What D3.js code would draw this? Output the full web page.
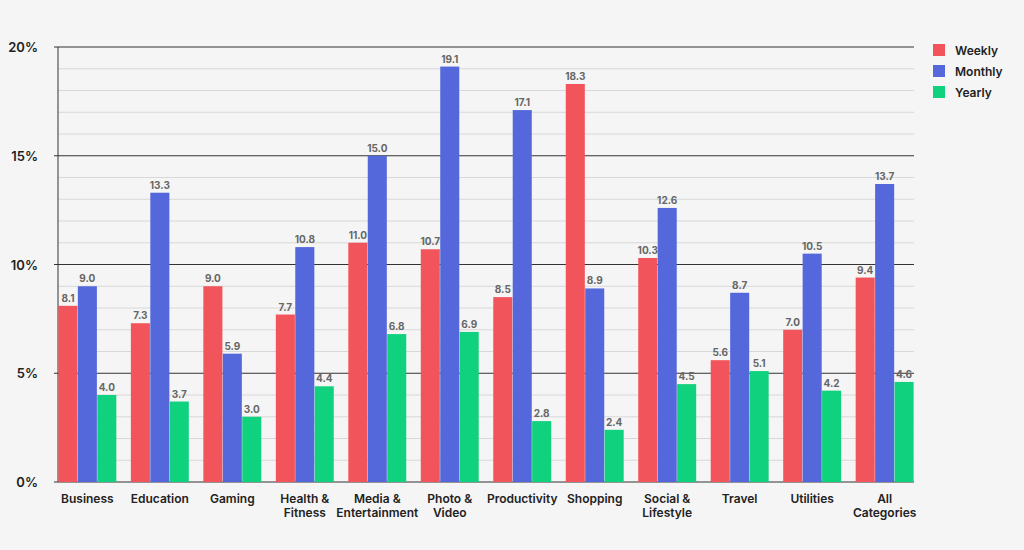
<!DOCTYPE html>
<html>
<head>
<meta charset="utf-8">
<script src="https://cdn.jsdelivr.net/npm/d3@7"></script>
<style>
  body { margin: 0; background: #f5f5f5; }
  text { font-family: Inter, "Noto Sans", sans-serif; }
</style>
</head>
<body>
<div id="chart"></div>
<script>
var categories = ["Business", "Education", "Gaming", "Health & Fitness", "Media & Entertainment",
    "Photo & Video", "Productivity", "Shopping", "Social & Lifestyle", "Travel", "Utilities", "All Categories"];
var labelLines = [["Business"], ["Education"], ["Gaming"], ["Health &", "Fitness"], ["Media &", "Entertainment"],
    ["Photo &", "Video"], ["Productivity"], ["Shopping"], ["Social &", "Lifestyle"], ["Travel"], ["Utilities"], ["All", "Categories"]];
var series = ["Weekly", "Monthly", "Yearly"];
var weekly = [8.1, 7.3, 9.0, 7.7, 11.0, 10.7, 8.5, 18.3, 10.3, 5.6, 7.0, 9.4];
var monthly = [9.0, 13.3, 5.9, 10.8, 15.0, 19.1, 17.1, 8.9, 12.6, 8.7, 10.5, 13.7];
var yearly = [4.0, 3.7, 3.0, 4.4, 6.8, 6.9, 2.8, 2.4, 4.5, 5.1, 4.2, 4.6];
var colors = ["#f2545b", "#5468db", "#10d17e"];
var yTicks = [0, 5, 10, 15, 20];

var values = [weekly, monthly, yearly];
var W = 1024, H = 550;
var padL = 58, padR = 914, padT = 47, padB = 482;

var svg = d3.select("#chart").append("svg")
        .attr("width", W).attr("height", H);

var x = d3.scaleBand().domain(categories).range([padL, padR]).paddingInner(0.19).paddingOuter(0);
var xs = d3.scaleBand().domain(series).range([0, x.bandwidth()]).padding(0.02);
var y = d3.scaleLinear().domain([0, 20]).range([padB, padT]);

//minor gridlines
svg.append("g").selectAll("line")
        .data(d3.range(1, 20).filter(function (d) { return d % 5 !== 0; }))
        .join("line")
        .attr("x1", padL).attr("x2", padR)
        .attr("y1", function (d) { return y(d); }).attr("y2", function (d) { return y(d); })
        .attr("stroke", "#d8d8d8").attr("stroke-width", 1);

//major gridlines
svg.append("g").selectAll("line")
        .data(yTicks)
        .join("line")
        .attr("x1", padL - 4).attr("x2", padR)
        .attr("y1", function (d) { return y(d); }).attr("y2", function (d) { return y(d); })
        .attr("stroke", "#333").attr("stroke-width", 1);

svg.append("g").selectAll("text")
        .data(yTicks)
        .join("text")
        .attr("x", 38).attr("y", function (d) { return y(d) + 5; })
        .attr("text-anchor", "end")
        .attr("font-size", 13).attr("font-weight", 600).attr("fill", "#222")
        .text(function (d) { return d + "%"; });

svg.append("line")
        .attr("x1", padL).attr("x2", padL).attr("y1", padT).attr("y2", padB)
        .attr("stroke", "#333");

//bars
series.forEach(function (s, si) {
    var g = svg.append("g");
    g.selectAll("rect")
            .data(values[si])
            .join("rect")
            .attr("x", function (d, i) { return x(categories[i]) + xs(s); })
            .attr("width", xs.bandwidth())
            .attr("y", function (d) { return y(d); })
            .attr("height", function (d) { return padB - y(d); })
            .attr("fill", colors[si]);
    g.selectAll("text")
            .data(values[si])
            .join("text")
            .attr("x", function (d, i) { return x(categories[i]) + xs(s) + xs.bandwidth() / 2; })
            .attr("y", function (d) { return y(d) - 4; })
            .attr("text-anchor", "middle")
            .attr("font-size", 10).attr("font-weight", 700).attr("fill", "#666")
            .text(function (d) { return d.toFixed(1); });
});

//category labels
svg.append("g").selectAll("text")
        .data(categories)
        .join("text")
        .attr("x", function (d) { return x(d) + x.bandwidth() / 2; })
        .attr("y", 503)
        .attr("text-anchor", "middle")
        .attr("font-size", 12).attr("font-weight", 600).attr("fill", "#222")
        .each(function (d, i) {
            var t = d3.select(this);
            labelLines[i].forEach(function (line, li) {
                t.append("tspan").attr("x", x(d) + x.bandwidth() / 2).attr("dy", li ? 14 : 0).text(line);
            });
        });

//legend
var legend = svg.append("g").attr("transform", "translate(933,44)");
series.forEach(function (s, i) {
    legend.append("rect").attr("x", 0).attr("y", i * 21).attr("width", 12).attr("height", 12).attr("fill", colors[i]);
    legend.append("text").attr("x", 22).attr("y", i * 21 + 11)
            .attr("font-size", 12).attr("font-weight", 600).attr("fill", "#222").text(s);
});
</script>
</body>
</html>
